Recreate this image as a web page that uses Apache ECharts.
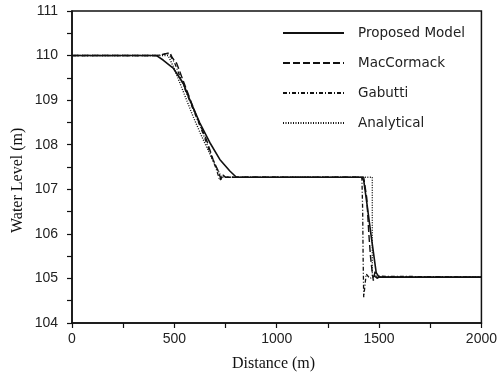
<!DOCTYPE html>
<html>
<head>
<meta charset="utf-8">
<script src="https://cdn.jsdelivr.net/npm/echarts@6/dist/echarts.min.js"></script>
<style>html,body{margin:0;padding:0;background:#fff;}#c{width:500px;height:375px;}</style>
</head>
<body>
<div id="c"></div>
<script>
const seriesNames = ['Proposed Model', 'MacCormack', 'Gabutti', 'Analytical'];
const xTickLabels = [0, 500, 1000, 1500, 2000];
const yTickLabels = [104, 105, 106, 107, 108, 109, 110, 111];

const proposedX = [0, 413, 445, 494, 543, 576, 624, 673, 722, 771, 803, 1415, 1425, 1440, 1460, 1486, 1500, 2000];
const proposedY = [110, 110, 109.90, 109.72, 109.38, 109.0, 108.49, 108.05, 107.67, 107.41, 107.27, 107.27, 107.2, 106.7, 106.0, 105.13, 105.03, 105.03];

const macX = [0, 413, 450, 478, 490, 511, 560, 608, 657, 689, 714, 728, 738, 750, 1425, 1432, 1440, 1450, 1458, 1465, 1472, 1480, 1490, 1500, 2000];
const macY = [110, 110, 110.03, 110.07, 109.95, 109.83, 109.23, 108.64, 108.11, 107.67, 107.41, 107.22, 107.32, 107.27, 107.27, 107.3, 106.8, 106.0, 105.5, 105.2, 104.95, 105.15, 105.0, 105.03, 105.03];

const gabX = [0, 413, 440, 465, 480, 500, 530, 560, 600, 640, 680, 705, 722, 735, 750, 1416, 1420, 1422, 1425, 1437, 1455, 1480, 2000];
const gabY = [110, 110, 110.02, 110.05, 110.0, 109.85, 109.5, 109.15, 108.7, 108.25, 107.75, 107.45, 107.2, 107.3, 107.27, 107.27, 106.5, 105.5, 104.58, 105.1, 105.0, 105.05, 105.03];

const anaX = [0, 470, 500, 530, 560, 590, 620, 650, 680, 710, 730, 1467, 1467, 2000];
const anaY = [110, 110, 109.7, 109.35, 109.0, 108.65, 108.33, 108.02, 107.73, 107.45, 107.27, 107.27, 105.03, 105.03];

function pairs(xs, ys) { return xs.map((x, i) => [x, ys[i]]); }

const chart = echarts.init(document.getElementById('c'), null, {renderer: 'canvas'});
const ink = '#111';
const mkLine = (name, xs, ys, type, w) => ({
  name, type: 'line', data: pairs(xs, ys), symbol: 'none', showSymbol: false, smooth: false,
  lineStyle: {color: ink, width: w, type: type}, itemStyle: {color: ink},
  animation: false
});

chart.setOption({
  backgroundColor: '#fff',
  animation: false,
  grid: {left: 72, right: 18, top: 11, bottom: 52, show: true, borderColor: ink, borderWidth: 1.5, backgroundColor: 'transparent'},
  legend: {
    orient: 'vertical', left: 277, top: 21, itemWidth: 61, itemHeight: 14, itemGap: 16,
    itemStyle: {opacity: 0, borderWidth: 0},
    textStyle: {fontFamily: 'DejaVu Sans', fontSize: 13.5, color: '#222', padding: [0, 0, 0, 9]},
    data: seriesNames
  },
  xAxis: {
    type: 'value', min: 0, max: 2000, interval: 500,
    axisLine: {show: true, lineStyle: {color: ink, width: 1.5}},
    axisTick: {show: true, length: 5, lineStyle: {color: ink, width: 1.2}},
    minorTick: {show: true, splitNumber: 2, length: 5, lineStyle: {color: ink, width: 1.2}},
    splitLine: {show: false},
    axisLabel: {fontFamily: 'Liberation Sans', fontSize: 14, color: '#222', margin: 9,
      formatter: v => xTickLabels.includes(v) ? String(v) : ''}
  },
  yAxis: {
    type: 'value', min: 104, max: 111, interval: 1,
    axisLine: {show: true, lineStyle: {color: ink, width: 1.5}},
    axisTick: {show: true, length: 5, lineStyle: {color: ink, width: 1.2}},
    minorTick: {show: true, splitNumber: 2, length: 5, lineStyle: {color: ink, width: 1.2}},
    splitLine: {show: false},
    axisLabel: {fontFamily: 'Liberation Sans', fontSize: 14, color: '#222', margin: 14,
      formatter: v => yTickLabels.includes(v) ? String(v) : ''}
  },
  graphic: [
    {type: 'text', left: 232, top: 356, style: {text: 'Distance (m)', font: '16px "Liberation Serif"', fill: '#111'}},
    {type: 'text', x: 10, y: 233, rotation: Math.PI / 2, style: {text: 'Water Level (m)', font: '16px "Liberation Serif"', fill: '#111'}}
  ],
  series: [
    mkLine(seriesNames[0], proposedX, proposedY, 'solid', 1.6),
    mkLine(seriesNames[1], macX, macY, [7, 3], 1.4),
    mkLine(seriesNames[2], gabX, gabY, [4, 2, 1, 2], 1.3),
    mkLine(seriesNames[3], anaX, anaY, [1, 1.5], 1.4)
  ]
});
</script>
</body>
</html>
